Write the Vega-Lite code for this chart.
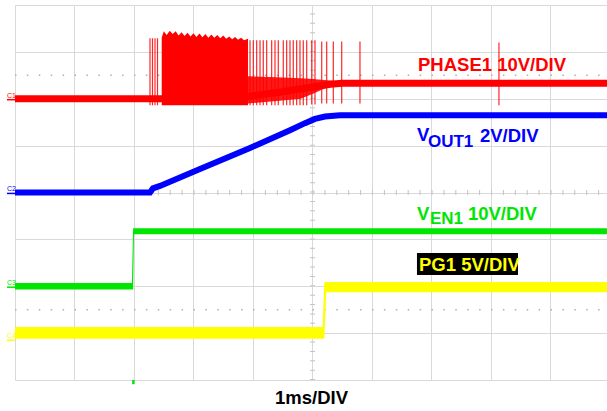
{
  "$schema": "https://vega.github.io/schema/vega-lite/v6.json",
  "width": 592,
  "height": 375,
  "autosize": {"type": "none"},
  "padding": {"left": 15, "top": 5, "right": 0, "bottom": 31},
  "background": "white",
  "config": {"view": {"stroke": null}, "font": "Liberation Sans"},
  "datasets": {
    "center_v": [{"t": 5, "v": 0, "v2": 8}],
    "center_h": [{"t": 0, "t2": 9.95, "v": 4}],
    "dots": [{"t": 0, "t2": 9.95, "v": 6.5}, {"t": 0, "t2": 9.95, "v": 1.5}],
    "yellow": [
      {"t": 0, "v": 1.13, "v2": 0.88},
      {"t": 5.17, "v": 1.13, "v2": 0.88},
      {"t": 5.2, "v": 2.09, "v2": 0.88},
      {"t": 5.23, "v": 2.09, "v2": 1.87},
      {"t": 9.95, "v": 2.09, "v2": 1.87}
    ],
    "green": [
      {"t": 0, "v": 2.07, "v2": 1.93},
      {"t": 1.965, "v": 2.07, "v2": 1.93},
      {"t": 1.985, "v": 3.24, "v2": 1.93},
      {"t": 2.0, "v": 3.24, "v2": 3.11},
      {"t": 9.95, "v": 3.24, "v2": 3.11}
    ],
    "blue": [
      {"t": 0, "v": 4.0},
      {"t": 2.269, "v": 4.0},
      {"t": 2.319, "v": 4.09},
      {"t": 2.437, "v": 4.14},
      {"t": 3.109, "v": 4.5},
      {"t": 3.95, "v": 4.95},
      {"t": 4.622, "v": 5.33},
      {"t": 4.874, "v": 5.48},
      {"t": 5.042, "v": 5.57},
      {"t": 5.21, "v": 5.62},
      {"t": 5.462, "v": 5.65},
      {"t": 9.95, "v": 5.65}
    ],
    "red_line": [
      {"t": 0, "v": 6.0},
      {"t": 2.45, "v": 6.0},
      {"t": 3.92, "v": 6.05},
      {"t": 4.5, "v": 6.15},
      {"t": 5.0, "v": 6.25},
      {"t": 5.3, "v": 6.31},
      {"t": 5.5, "v": 6.33},
      {"t": 9.95, "v": 6.33}
    ],
    "red_dense": [
      {"t": 2.466, "v": 7.3, "v2": 5.86},
      {"t": 2.5, "v": 7.44, "v2": 5.86},
      {"t": 2.55, "v": 7.36, "v2": 5.86},
      {"t": 2.6, "v": 7.45, "v2": 5.86},
      {"t": 2.65, "v": 7.38, "v2": 5.86},
      {"t": 2.7, "v": 7.44, "v2": 5.86},
      {"t": 2.75, "v": 7.35, "v2": 5.86},
      {"t": 2.8, "v": 7.42, "v2": 5.86},
      {"t": 2.85, "v": 7.34, "v2": 5.86},
      {"t": 2.9, "v": 7.41, "v2": 5.86},
      {"t": 2.95, "v": 7.33, "v2": 5.86},
      {"t": 3.0, "v": 7.4, "v2": 5.86},
      {"t": 3.05, "v": 7.32, "v2": 5.86},
      {"t": 3.1, "v": 7.39, "v2": 5.86},
      {"t": 3.15, "v": 7.31, "v2": 5.86},
      {"t": 3.2, "v": 7.38, "v2": 5.86},
      {"t": 3.25, "v": 7.3, "v2": 5.86},
      {"t": 3.3, "v": 7.37, "v2": 5.86},
      {"t": 3.35, "v": 7.3, "v2": 5.86},
      {"t": 3.4, "v": 7.36, "v2": 5.86},
      {"t": 3.45, "v": 7.29, "v2": 5.86},
      {"t": 3.5, "v": 7.35, "v2": 5.86},
      {"t": 3.55, "v": 7.28, "v2": 5.86},
      {"t": 3.6, "v": 7.33, "v2": 5.86},
      {"t": 3.65, "v": 7.27, "v2": 5.86},
      {"t": 3.7, "v": 7.32, "v2": 5.86},
      {"t": 3.75, "v": 7.26, "v2": 5.86},
      {"t": 3.8, "v": 7.3, "v2": 5.86},
      {"t": 3.85, "v": 7.25, "v2": 5.86},
      {"t": 3.916, "v": 7.28, "v2": 5.86}
    ],
    "red_fill": [
      {"t": 3.916, "v": 6.48, "v2": 5.9},
      {"t": 4.4, "v": 6.46, "v2": 5.95},
      {"t": 4.8, "v": 6.44, "v2": 6.0},
      {"t": 5.0, "v": 6.42, "v2": 6.1},
      {"t": 5.2, "v": 6.4, "v2": 6.22},
      {"t": 5.4, "v": 6.38, "v2": 6.28}
    ],
    "red_spikes": [
      {"t": 2.269, "v": 7.29, "v2": 5.86},
      {"t": 2.311, "v": 7.29, "v2": 5.86},
      {"t": 2.353, "v": 7.29, "v2": 5.86},
      {"t": 2.395, "v": 7.29, "v2": 5.86},
      {"t": 3.95, "v": 7.25, "v2": 5.86},
      {"t": 4.005, "v": 7.25, "v2": 5.86},
      {"t": 4.062, "v": 7.25, "v2": 5.86},
      {"t": 4.118, "v": 7.25, "v2": 5.86},
      {"t": 4.173, "v": 7.25, "v2": 5.86},
      {"t": 4.23, "v": 7.25, "v2": 5.86},
      {"t": 4.314, "v": 7.25, "v2": 5.86},
      {"t": 4.37, "v": 7.25, "v2": 5.86},
      {"t": 4.425, "v": 7.25, "v2": 5.86},
      {"t": 4.509, "v": 7.25, "v2": 5.86},
      {"t": 4.566, "v": 7.25, "v2": 5.86},
      {"t": 4.622, "v": 7.25, "v2": 5.86},
      {"t": 4.677, "v": 7.25, "v2": 5.86},
      {"t": 4.734, "v": 7.25, "v2": 5.86},
      {"t": 4.79, "v": 7.25, "v2": 5.86},
      {"t": 4.845, "v": 7.25, "v2": 5.86},
      {"t": 4.903, "v": 7.25, "v2": 5.86},
      {"t": 4.987, "v": 7.25, "v2": 5.88},
      {"t": 5.042, "v": 7.25, "v2": 5.88},
      {"t": 5.155, "v": 7.22, "v2": 5.9},
      {"t": 5.239, "v": 7.22, "v2": 5.9},
      {"t": 5.35, "v": 7.22, "v2": 5.9},
      {"t": 5.491, "v": 7.22, "v2": 5.9},
      {"t": 5.798, "v": 7.22, "v2": 5.9},
      {"t": 8.134, "v": 7.2, "v2": 5.86}
    ],
    "markers": [
      {"t": -0.134, "t2": 0, "v": 5.98, "ch": "1", "name": "C1"},
      {"t": -0.134, "t2": 0, "v": 3.98, "ch": "2", "name": "C2"},
      {"t": -0.134, "t2": 0, "v": 1.98, "ch": "3", "name": "C3"},
      {"t": -0.134, "t2": 0, "v": 0.85, "ch": "4", "name": "C4"}
    ],
    "trigger": [{"t": 1.99, "v": -0.09, "v2": 0}],
    "box": [{"t": 6.756, "t2": 8.454, "v": 2.708, "v2": 2.239}],
    "labels": [
      {"t": 6.773, "v": 6.59, "label": "PHASE1 10V/DIV", "ch": "1", "part": "main"},
      {"t": 6.756, "v": 5.096, "label": "V", "ch": "2", "part": "main"},
      {"t": 6.941, "v": 4.968, "label": "OUT1", "ch": "2", "part": "sub"},
      {"t": 7.815, "v": 5.085, "label": "2V/DIV", "ch": "2", "part": "main"},
      {"t": 6.756, "v": 3.411, "label": "V", "ch": "3", "part": "main"},
      {"t": 6.975, "v": 3.326, "label": "EN1", "ch": "3", "part": "sub"},
      {"t": 7.613, "v": 3.422, "label": "10V/DIV", "ch": "3", "part": "main"},
      {"t": 6.79, "v": 2.324, "label": "PG1 5V/DIV", "ch": "4", "part": "main"}
    ]
  },
  "encoding": {
    "x": {
      "field": "t",
      "type": "quantitative",
      "scale": {"domain": [0, 9.95], "nice": false, "zero": false},
      "axis": {
        "values": [0, 1, 2, 3, 4, 5, 6, 7, 8, 9],
        "grid": true,
        "gridColor": "#d9d9d9",
        "gridWidth": 1,
        "domain": false,
        "ticks": false,
        "labels": false,
        "title": "1ms/DIV",
        "titleFont": "Liberation Sans",
        "titleFontSize": 18.5,
        "titleFontWeight": "bold",
        "titleColor": "#000000",
        "titlePadding": 8
      }
    },
    "y": {
      "field": "v",
      "type": "quantitative",
      "scale": {"domain": [0, 8], "nice": false, "zero": false},
      "axis": {
        "values": [0, 1, 2, 3, 4, 5, 6, 7, 8],
        "grid": true,
        "gridColor": "#d9d9d9",
        "gridWidth": 1,
        "domain": false,
        "ticks": false,
        "labels": false,
        "title": null
      }
    }
  },
  "layer": [
    {
      "data": {"name": "center_v"},
      "mark": {"type": "rule", "color": "#c4c4c4", "strokeWidth": 5, "strokeDash": [1, 8.375]},
      "encoding": {"y2": {"field": "v2"}}
    },
    {
      "data": {"name": "center_h"},
      "mark": {"type": "rule", "color": "#c4c4c4", "strokeWidth": 5, "strokeDash": [1, 10.9]},
      "encoding": {"x2": {"field": "t2"}}
    },
    {
      "data": {"name": "dots"},
      "mark": {"type": "rule", "color": "#b0b0b0", "strokeWidth": 1.5, "strokeDash": [1.5, 10.4]},
      "encoding": {"x2": {"field": "t2"}}
    },
    {
      "data": {"name": "yellow"},
      "mark": {"type": "area", "color": "#ffff00", "opacity": 1},
      "encoding": {"y2": {"field": "v2"}}
    },
    {
      "data": {"name": "green"},
      "mark": {"type": "area", "color": "#00e600", "opacity": 1},
      "encoding": {"y2": {"field": "v2"}}
    },
    {
      "data": {"name": "blue"},
      "mark": {"type": "line", "color": "#0000ff", "strokeWidth": 6, "strokeCap": "butt"},
      "encoding": {}
    },
    {
      "data": {"name": "red_line"},
      "mark": {"type": "line", "color": "#ff0000", "strokeWidth": 7, "strokeCap": "butt"},
      "encoding": {}
    },
    {
      "data": {"name": "red_dense"},
      "mark": {"type": "area", "color": "#ff0000", "opacity": 1},
      "encoding": {"y2": {"field": "v2"}}
    },
    {
      "data": {"name": "red_fill"},
      "mark": {"type": "area", "color": "#ff0000", "opacity": 0.9},
      "encoding": {"y2": {"field": "v2"}}
    },
    {
      "data": {"name": "red_spikes"},
      "mark": {"type": "rule", "color": "#ff0000", "strokeWidth": 1.2, "opacity": 0.85},
      "encoding": {"y2": {"field": "v2"}}
    },
    {
      "data": {"name": "markers"},
      "mark": {"type": "rule", "strokeWidth": 1.5},
      "encoding": {
        "x2": {"field": "t2"},
        "color": {"field": "ch", "type": "nominal", "scale": {"domain": ["1", "2", "3", "4"], "range": ["#ff0000", "#0000ff", "#00e600", "#ffff00"]}, "legend": null}
      }
    },
    {
      "data": {"name": "markers"},
      "mark": {"type": "text", "fontSize": 7, "align": "left", "baseline": "alphabetic", "dy": -2},
      "encoding": {
        "text": {"field": "name"},
        "color": {"field": "ch", "type": "nominal", "legend": null}
      }
    },
    {
      "data": {"name": "trigger"},
      "mark": {"type": "rule", "color": "#00e600", "strokeWidth": 2.5},
      "encoding": {"y2": {"field": "v2"}}
    },
    {
      "data": {"name": "box"},
      "mark": {"type": "rect", "color": "#000000"},
      "encoding": {"x2": {"field": "t2"}, "y2": {"field": "v2"}}
    },
    {
      "data": {"name": "labels"},
      "mark": {"type": "text", "align": "left", "baseline": "alphabetic", "fontWeight": "bold", "font": "Liberation Sans"},
      "encoding": {
        "text": {"field": "label"},
        "color": {"field": "ch", "type": "nominal", "legend": null},
        "size": {"field": "part", "type": "nominal", "scale": {"domain": ["main", "sub"], "range": [18.5, 17]}, "legend": null}
      }
    }
  ]
}
